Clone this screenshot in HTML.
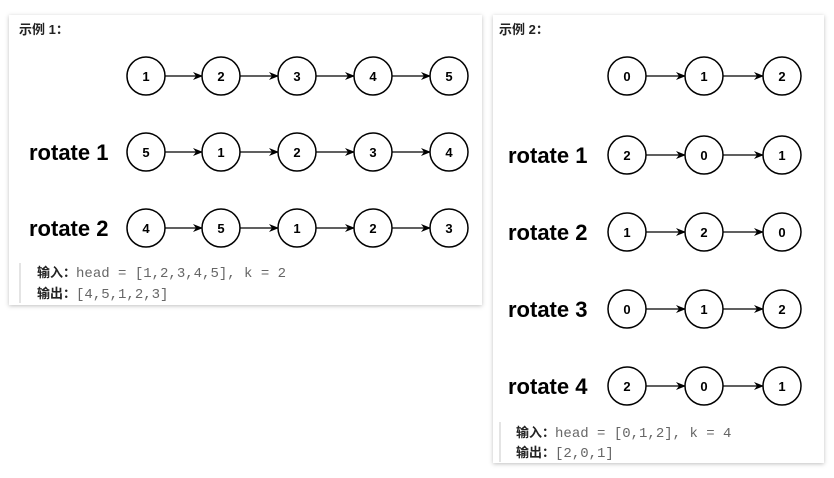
<!DOCTYPE html>
<html><head><meta charset="utf-8"><style>
body{margin:0;background:#fff;width:834px;height:478px;overflow:hidden}
svg{position:absolute;left:0;top:0}
</style></head><body>
<svg width="834" height="478" xmlns="http://www.w3.org/2000/svg">
<defs>
<marker id="a" markerWidth="10" markerHeight="8" refX="9" refY="4" orient="auto" markerUnits="userSpaceOnUse"><path d="M0,0 L10,4 L0,8 L3,4 z" fill="#000"/></marker>
<filter id="s" x="-5%" y="-5%" width="110%" height="110%"><feDropShadow dx="0" dy="1" stdDeviation="2" flood-color="#000" flood-opacity="0.25"/></filter>
<g id="c"><circle r="19" fill="#fff" stroke="#000" stroke-width="1.5"/></g>
</defs>
<rect x="9" y="15" width="473" height="290" fill="#fff" filter="url(#s)"/>
<rect x="493" y="15" width="331" height="448" fill="#fff" filter="url(#s)"/>
<g font-family="'Liberation Sans','Noto Sans CJK SC',sans-serif" font-weight="bold" font-size="13" fill="#222">
<text x="19" y="34">示例 1：</text><text x="499" y="34">示例 2：</text></g>
<g stroke="#000" stroke-width="1.3" marker-end="url(#a)">
<line x1="165" y1="76" x2="202" y2="76"/><line x1="240" y1="76" x2="278" y2="76"/><line x1="316" y1="76" x2="354" y2="76"/><line x1="392" y1="76" x2="430" y2="76"/>
<line x1="165" y1="152" x2="202" y2="152"/><line x1="240" y1="152" x2="278" y2="152"/><line x1="316" y1="152" x2="354" y2="152"/><line x1="392" y1="152" x2="430" y2="152"/>
<line x1="165" y1="228" x2="202" y2="228"/><line x1="240" y1="228" x2="278" y2="228"/><line x1="316" y1="228" x2="354" y2="228"/><line x1="392" y1="228" x2="430" y2="228"/>
<line x1="646" y1="76" x2="685" y2="76"/><line x1="723" y1="76" x2="763" y2="76"/>
<line x1="646" y1="155" x2="685" y2="155"/><line x1="723" y1="155" x2="763" y2="155"/>
<line x1="646" y1="232" x2="685" y2="232"/><line x1="723" y1="232" x2="763" y2="232"/>
<line x1="646" y1="309" x2="685" y2="309"/><line x1="723" y1="309" x2="763" y2="309"/>
<line x1="646" y1="386" x2="685" y2="386"/><line x1="723" y1="386" x2="763" y2="386"/>
</g>
<g>
<use href="#c" x="146" y="76"/><use href="#c" x="221" y="76"/><use href="#c" x="297" y="76"/><use href="#c" x="373" y="76"/><use href="#c" x="449" y="76"/>
<use href="#c" x="146" y="152"/><use href="#c" x="221" y="152"/><use href="#c" x="297" y="152"/><use href="#c" x="373" y="152"/><use href="#c" x="449" y="152"/>
<use href="#c" x="146" y="228"/><use href="#c" x="221" y="228"/><use href="#c" x="297" y="228"/><use href="#c" x="373" y="228"/><use href="#c" x="449" y="228"/>
<use href="#c" x="627" y="76"/><use href="#c" x="704" y="76"/><use href="#c" x="782" y="76"/>
<use href="#c" x="627" y="155"/><use href="#c" x="704" y="155"/><use href="#c" x="782" y="155"/>
<use href="#c" x="627" y="232"/><use href="#c" x="704" y="232"/><use href="#c" x="782" y="232"/>
<use href="#c" x="627" y="309"/><use href="#c" x="704" y="309"/><use href="#c" x="782" y="309"/>
<use href="#c" x="627" y="386"/><use href="#c" x="704" y="386"/><use href="#c" x="782" y="386"/>
</g>
<g font-family="'Liberation Sans',sans-serif" font-weight="bold" font-size="13" text-anchor="middle" fill="#000">
<text x="146" y="81">1</text><text x="221" y="81">2</text><text x="297" y="81">3</text><text x="373" y="81">4</text><text x="449" y="81">5</text>
<text x="146" y="157">5</text><text x="221" y="157">1</text><text x="297" y="157">2</text><text x="373" y="157">3</text><text x="449" y="157">4</text>
<text x="146" y="233">4</text><text x="221" y="233">5</text><text x="297" y="233">1</text><text x="373" y="233">2</text><text x="449" y="233">3</text>
<text x="627" y="81">0</text><text x="704" y="81">1</text><text x="782" y="81">2</text>
<text x="627" y="160">2</text><text x="704" y="160">0</text><text x="782" y="160">1</text>
<text x="627" y="237">1</text><text x="704" y="237">2</text><text x="782" y="237">0</text>
<text x="627" y="314">0</text><text x="704" y="314">1</text><text x="782" y="314">2</text>
<text x="627" y="391">2</text><text x="704" y="391">0</text><text x="782" y="391">1</text>
</g>
<g font-family="'Liberation Sans',sans-serif" font-weight="bold" font-size="22" fill="#000">
<text x="29" y="160">rotate 1</text><text x="29" y="236">rotate 2</text>
<text x="508" y="163">rotate 1</text><text x="508" y="240">rotate 2</text><text x="508" y="317">rotate 3</text><text x="508" y="394">rotate 4</text>
</g>
<rect x="19" y="263" width="2" height="40" fill="#e4e4e4"/>
<rect x="499" y="422" width="2" height="40" fill="#e4e4e4"/>
<g font-size="13">
<text x="37" y="277"><tspan font-family="'Liberation Sans','Noto Sans CJK SC',sans-serif" font-weight="bold" fill="#222">输入：</tspan><tspan font-family="'Liberation Mono',monospace" font-size="14" fill="#666">head = [1,2,3,4,5], k = 2</tspan></text>
<text x="37" y="298"><tspan font-family="'Liberation Sans','Noto Sans CJK SC',sans-serif" font-weight="bold" fill="#222">输出：</tspan><tspan font-family="'Liberation Mono',monospace" font-size="14" fill="#666">[4,5,1,2,3]</tspan></text>
<text x="516" y="437"><tspan font-family="'Liberation Sans','Noto Sans CJK SC',sans-serif" font-weight="bold" fill="#222">输入：</tspan><tspan font-family="'Liberation Mono',monospace" font-size="14" fill="#666">head = [0,1,2], k = 4</tspan></text>
<text x="516" y="457"><tspan font-family="'Liberation Sans','Noto Sans CJK SC',sans-serif" font-weight="bold" fill="#222">输出：</tspan><tspan font-family="'Liberation Mono',monospace" font-size="14" fill="#666">[2,0,1]</tspan></text>
</g>
</svg>
</body></html>
